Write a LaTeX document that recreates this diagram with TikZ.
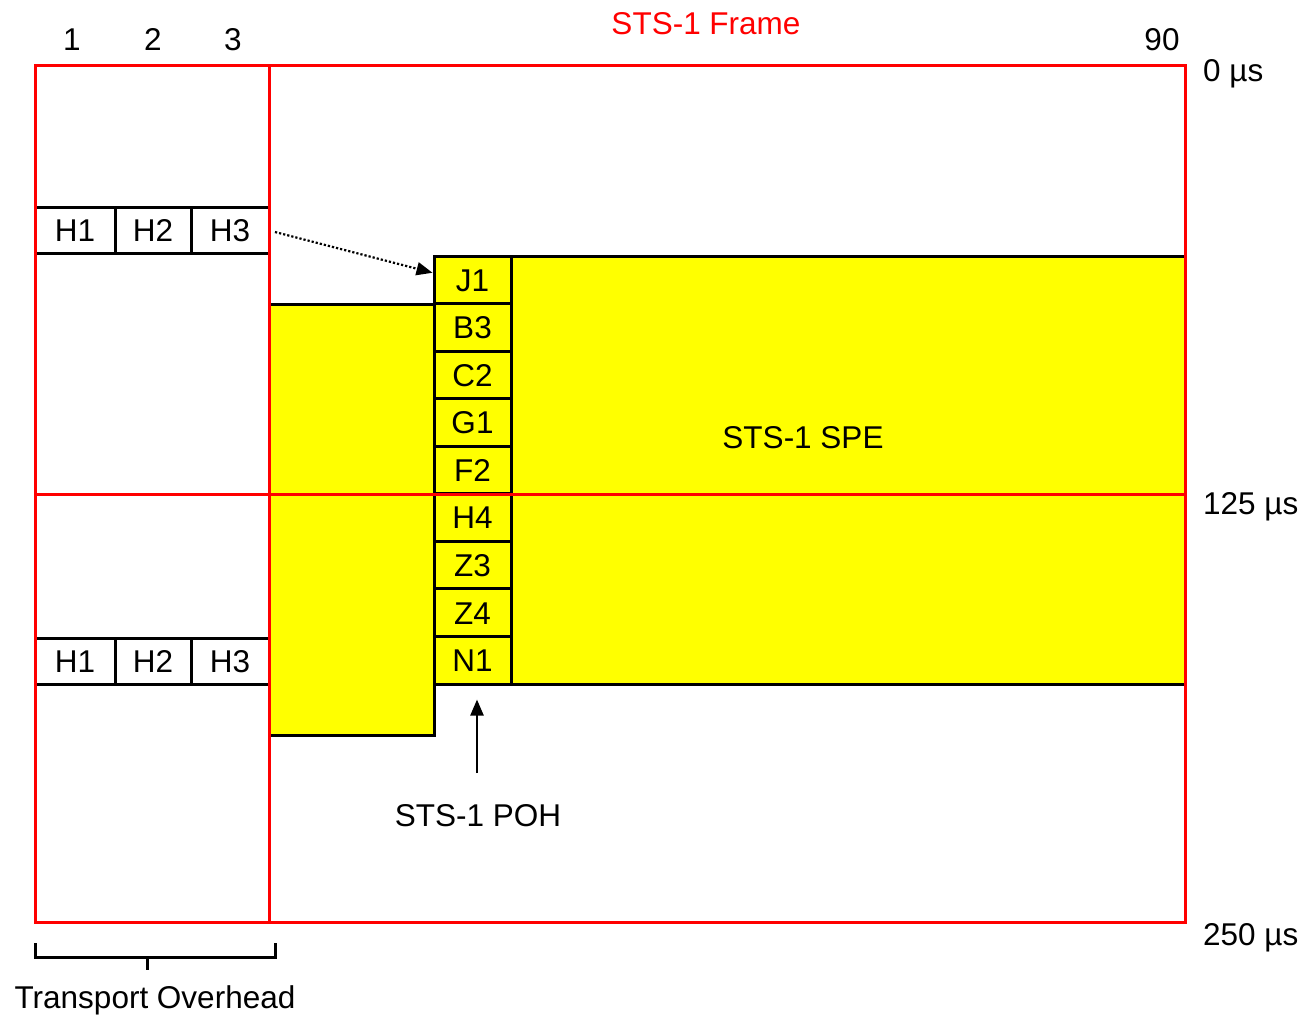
\documentclass[tikz,border=0pt]{standalone}
\usepackage{fontspec}
\setmainfont{Liberation Sans}
\usetikzlibrary{arrows.meta}
\definecolor{pyellow}{RGB}{255,255,0}
\definecolor{pred}{RGB}{255,0,0}
\tikzset{
  lbl/.style={inner sep=0pt,font=\fontsize{31.5}{36}\selectfont},
  frameline/.style={draw=pred,line width=3pt},
  blk/.style={draw=black,line width=3pt},
  cellt/.style={text height=22.6pt,text depth=0pt},
  hcell/.style={lbl,cellt,draw=black,line width=3pt,minimum height=46pt,anchor=center},
  pohcell/.style={lbl,cellt,draw=black,fill=pyellow,line width=3pt,minimum width=77pt,minimum height=47.56pt},
  tip/.style={-{Triangle[length=16pt,width=13pt]}}
}
\begin{document}
\begin{tikzpicture}[x=1pt,y=-1pt]
\path[use as bounding box] (0,0) rectangle (1303,1017);
% yellow SPE shape
\path[blk,fill=pyellow,line join=miter] (269,304) -- (434,304) -- (434,256) -- (1185,256) -- (1185,684) -- (434,684) -- (434,735) -- (269,735) -- cycle;
% POH cells
\foreach \n/\t [count=\i from 0] in {j1/J1,b3/B3,c2/C2,g1/G1,f2/F2,h4/H4,z3/Z3,z4/Z4,n1/N1}{
  \node[pohcell] (\n) at (472.5,{256+47.56*(\i+0.5)}) {\t};
}
% H cells
\node[hcell,minimum width=80pt] (h1a) at (75,230) {H1};
\node[hcell,minimum width=76pt] (h2a) at (153,230) {H2};
\node[hcell,minimum width=78pt] (h3a) at (230,230) {H3};
\node[hcell,minimum width=80pt] (h1b) at (75,661) {H1};
\node[hcell,minimum width=76pt] (h2b) at (153,661) {H2};
\node[hcell,minimum width=78pt] (h3b) at (230,661) {H3};
% frame (red on top)
\draw[frameline] (35,65) rectangle (1185,922);
\draw[frameline] (269,65) -- (269,922);
\draw[frameline] (35,494) -- (1185,494);
% labels
\node[lbl,pred,anchor=base] (title) at (706,34) {STS-1 Frame};
\node[lbl,anchor=base] (c1) at (72,50) {1};
\node[lbl,anchor=base] (c2l) at (153,50) {2};
\node[lbl,anchor=base] (c3) at (233,50) {3};
\node[lbl,anchor=base] (c90) at (1162,50) {90};
\node[lbl,anchor=base west] (t0) at (1203,81) {0 µs};
\node[lbl,anchor=base west] (t125) at (1203,514) {125 µs};
\node[lbl,anchor=base west] (t250) at (1203,945) {250 µs};
\node[lbl] (spe) at (803,438) {STS-1 SPE};
\node[lbl,anchor=base] (poh) at (478,826) {STS-1 POH};
\node[lbl,anchor=base] (toh) at (155,1008) {Transport Overhead};
% arrows
\coordinate (dotstart) at (275,232);
\coordinate (pohtail) at (477,773);
\draw[dotted,line width=2.2pt,tip] (dotstart) -- ([yshift=7pt]j1.west);
\draw[line width=2.4pt,tip] (pohtail) -- ([xshift=4.5pt,yshift=-14pt]n1.south);
% bracket
\coordinate (brl) at (35,943);
\coordinate (brr) at (275,943);
\coordinate (brm) at (147,957);
\draw[blk] (brl) -- (35,957) -- (275,957) -- (brr);
\draw[blk] (brm) -- (147,970);
\end{tikzpicture}
\end{document}
